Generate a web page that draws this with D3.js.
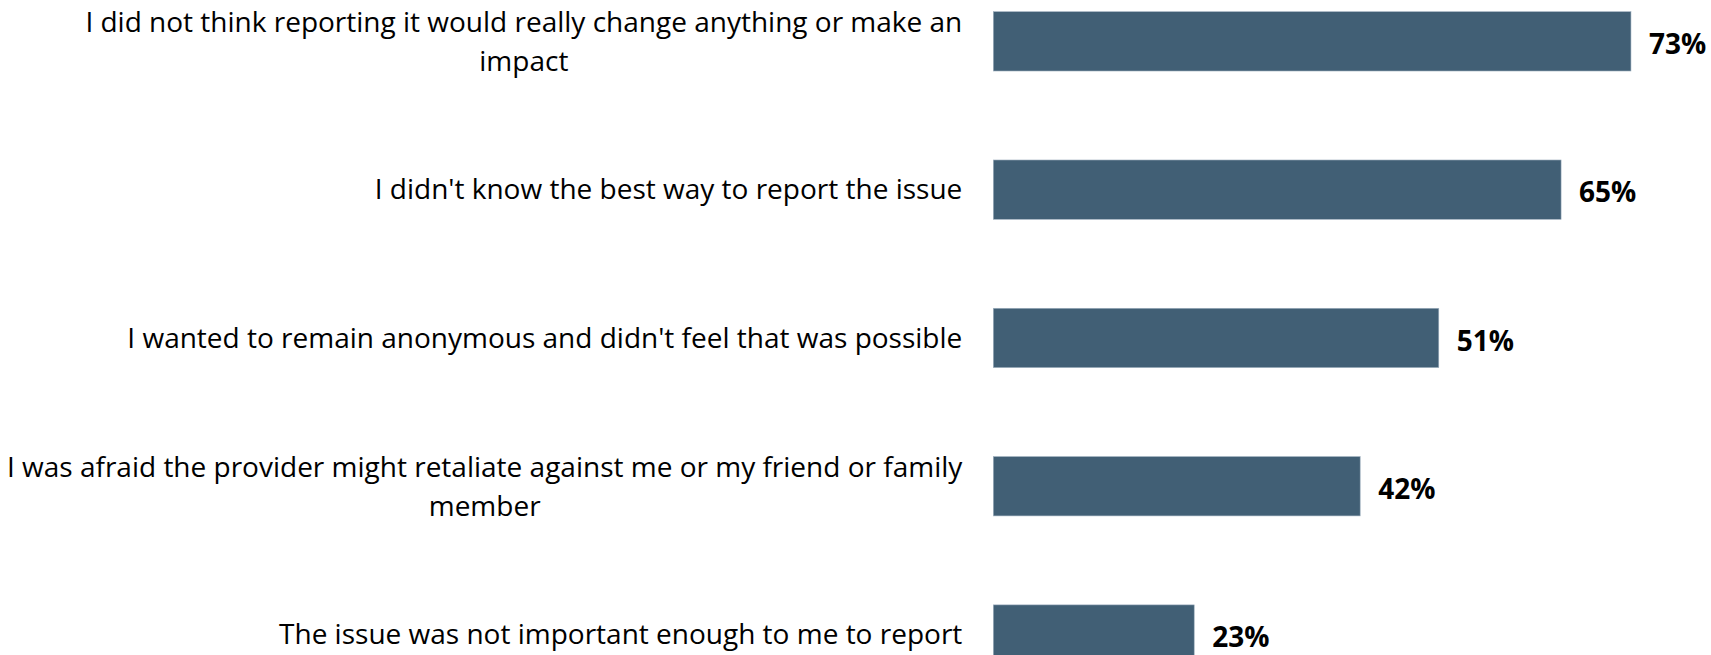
<!DOCTYPE html>
<html>
<head>
<meta charset="utf-8">
<script src="https://cdn.jsdelivr.net/npm/d3@7"></script>
<style>
  html, body { margin: 0; padding: 0; background: #ffffff; }
  svg { display: block; }
</style>
</head>
<body>
<svg id="chart" width="1711" height="655"></svg>
<script>
// Reasons for not reporting the issue (share of respondents, %)
const categories = [
  "I did not think reporting it would really change anything or make an\nimpact",
  "I didn't know the best way to report the issue",
  "I wanted to remain anonymous and didn't feel that was possible",
  "I was afraid the provider might retaliate against me or my friend or family\nmember",
  "The issue was not important enough to me to report"
];
const values = [73, 65, 51, 42, 23];
const valueLabels = ["73%", "65%", "51%", "42%", "23%"];

const svg = d3.select("#chart");

const barColor = "#415f75";
const fontFamily = "'Open Sans', 'Noto Sans', sans-serif";

// Horizontal value scale: bars start at the plot's left edge
const x = d3.scaleLinear().domain([0, 100]).range([993.3, 1866.8]);

// Vertical category bands (plot continues past the bottom edge)
const step = 148.3;
const y = d3.scaleBand()
  .domain(categories)
  .range([-32.8, -32.8 + step * categories.length])
  .paddingInner(0.6)
  .paddingOuter(0.3);

const g = svg.append("g");

// Bars
g.selectAll("rect.bar")
  .data(categories)
  .join("rect")
  .attr("class", "bar")
  .attr("x", x(0))
  .attr("y", d => y(d))
  .attr("width", (d, i) => x(values[i]) - x(0))
  .attr("height", y.bandwidth())
  .attr("fill", barColor)
  .attr("stroke", "#9fb0bf")
  .attr("stroke-width", 0.6);

// Category axis on the left, no domain line or ticks
const yAxis = d3.axisLeft(y).tickSize(0).tickPadding(0);
const axisG = svg.append("g")
  .attr("transform", `translate(${x(0) - 31},0)`)
  .call(yAxis);
axisG.select(".domain").remove();

const lineH = 39;
axisG.selectAll(".tick text")
  .attr("font-family", fontFamily)
  .attr("font-size", 28)
  .attr("fill", "#000000")
  .attr("text-anchor", "end")
  .each(function(d) {
    const t = d3.select(this);
    const lines = d.split("\n");
    t.text(null).attr("dy", null).attr("x", 0);
    const off = -(lines.length - 1) * lineH / 2;
    lines.forEach((ln, k) => {
      t.append("tspan")
        .attr("x", 0)
        .attr("y", off + k * lineH)
        .attr("dy", "0.35em")
        .text(ln);
    });
  });

// Centre the continuation line of wrapped labels under the first line
axisG.selectAll(".tick text").each(function() {
  const spans = d3.select(this).selectAll("tspan").nodes();
  if (spans.length > 1) {
    const w0 = spans[0].getComputedTextLength();
    spans.slice(1).forEach(s => {
      d3.select(s).attr("x", -w0 / 2).attr("text-anchor", "middle");
    });
  }
});

// Value labels at bar ends
g.selectAll("text.val")
  .data(categories)
  .join("text")
  .attr("class", "val")
  .attr("x", (d, i) => x(values[i]) + 18)
  .attr("y", d => y(d) + y.bandwidth() / 2 + 3)
  .attr("dy", "0.35em")
  .attr("font-family", fontFamily)
  .attr("font-size", 28)
  .attr("font-weight", 700)
  .attr("fill", "#000000")
  .text((d, i) => valueLabels[i]);
</script>
</body>
</html>
